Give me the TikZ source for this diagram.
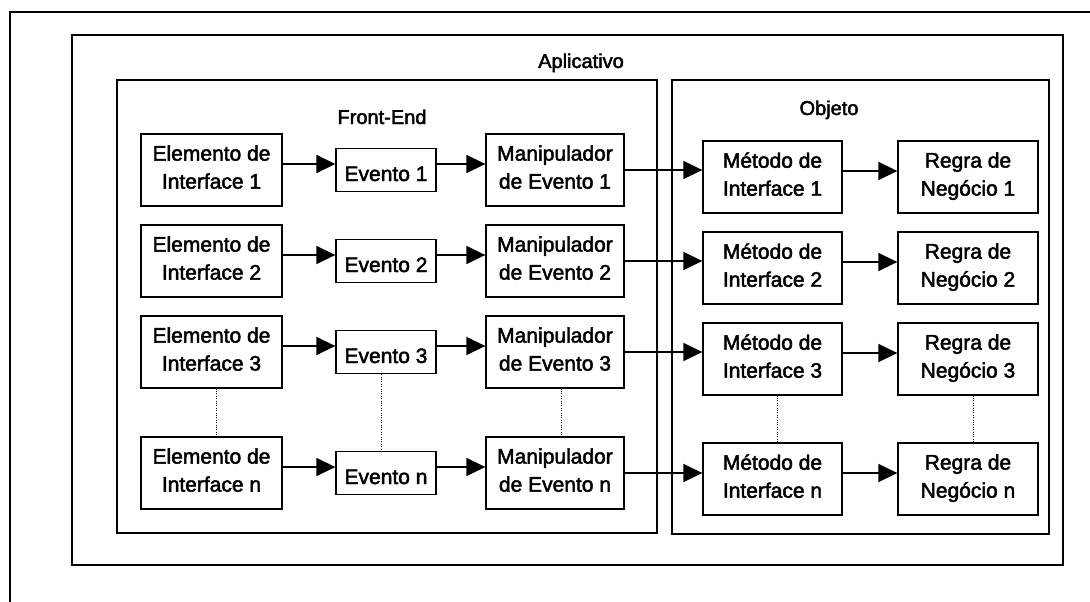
\documentclass[tikz,border=0pt]{standalone}
\usepackage{fontspec}
\setmainfont{Liberation Sans}[FakeBold=2.2]
\usetikzlibrary{arrows.meta}

\begin{document}
\begin{tikzpicture}[
    x=1pt, y=-1pt,
    box/.style={draw, line width=1.3pt, inner sep=0pt, align=center,
                font=\fontsize{21}{28}\selectfont,
                execute at begin node={\rule{0pt}{28pt}},
                execute at end node={\rule[-6pt]{0pt}{6pt}}},
    bigbox/.style={box, minimum height=72pt},
    evbox/.style={box, minimum width=100pt, minimum height=43pt},
    elbox/.style={bigbox, minimum width=141pt},
    mnbox/.style={bigbox, minimum width=138pt},
    mtbox/.style={bigbox, minimum width=139pt},
    rgbox/.style={bigbox, minimum width=140pt},
    frame/.style={draw, line width=1.3pt},
    outerline/.style={draw, line width=2pt},
    title/.style={anchor=base, inner sep=0pt, font=\fontsize{20}{24}\selectfont},
    flow/.style={draw, line width=1.6pt, -{Triangle[length=19pt,width=18pt]}},
    more/.style={draw, line width=1pt, dash pattern=on 1pt off 1.4pt},
  ]
  \useasboundingbox (0,0) rectangle (1090,602);

  % page frame and containers
  \draw[outerline] (10,602) -- (10,12) -- (1090,12);
  \draw[frame] (72,35) rectangle (1063,565);
  \draw[frame] (117,80) rectangle (657,533);
  \draw[frame] (672,80) rectangle (1049,534);

  \node[title] (tapp) at (581,68)  {Aplicativo};
  \node[title] (tfe)  at (382,124) {Front-End};
  \node[title] (tobj) at (829,115) {Objeto};

  % Front-End rows
  \foreach \r/\y/\lab in {1/170/1, 2/261/2, 3/352/3, n/473/n} {
    \node[elbox] (e\r) at (211.5,\y) {Elemento de\\Interface \lab};
    \node[evbox] (v\r) at (386,\y)   {Evento \lab};
    \node[mnbox] (m\r) at (555,\y)   {Manipulador\\de Evento \lab};
  }
  % Objeto rows
  \foreach \r/\y/\lab in {1/177/1, 2/268/2, 3/359/3, n/479/n} {
    \node[mtbox] (o\r) at (772.5,\y) {Método de\\Interface \lab};
    \node[rgbox] (g\r) at (968,\y)   {Regra de\\Negócio \lab};
  }

  % event flow along each row
  \foreach \r in {1,2,3,n} {
    \draw[flow] ([yshift=6pt]e\r.east) -- ([yshift=6pt]v\r.west);
    \draw[flow] ([yshift=6pt]v\r.east) -- ([yshift=6pt]m\r.west);
    \draw[flow] (m\r.east) -- (m\r.east -| o\r.west);
    \draw[flow] ([yshift=6pt]o\r.east) -- ([yshift=6pt]g\r.west);
  }

  % elided rows between 3 and n
  \draw[more] ([xshift=5pt]e3.south) -- ([xshift=5pt]en.north);
  \draw[more] ([xshift=-5pt]v3.south) -- ([xshift=-5pt]vn.north);
  \draw[more] ([xshift=6pt]m3.south) -- ([xshift=6pt]mn.north);
  \draw[more] ([xshift=5pt]o3.south) -- ([xshift=5pt]on.north);
  \draw[more] ([xshift=5pt]g3.south) -- ([xshift=5pt]gn.north);
\end{tikzpicture}
\end{document}
